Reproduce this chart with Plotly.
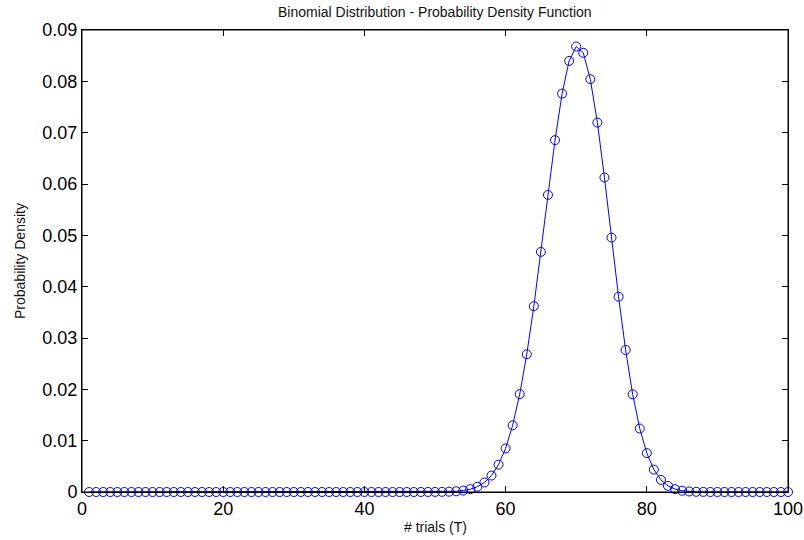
import plotly.graph_objects as go

trials = list(range(1, 101))
density = [0.0] * 47 + [
    0.0000022, 0.0000055, 0.0000130, 0.0000298, 0.0000654, 0.000138, 0.000281,
    0.000549, 0.001029, 0.001853, 0.003206, 0.005325, 0.008490, 0.012991,
    0.019067, 0.026835, 0.036199, 0.046780, 0.057884, 0.068539, 0.077610,
    0.083984, 0.086783, 0.085561, 0.080412, 0.071967, 0.061269, 0.049560,
    0.038040, 0.027665, 0.019034, 0.012368, 0.007575, 0.004364, 0.002360,
    0.001194, 0.000564, 0.000248, 0.000101, 0.0000379, 0.0000131, 0.0000041,
    0.0000012,
] + [0.0] * 10

x_ticks = [0, 20, 40, 60, 80, 100]
y_ticks = [0, 0.01, 0.02, 0.03, 0.04, 0.05, 0.06, 0.07, 0.08, 0.09]
y_tick_text = ["0", "0.01", "0.02", "0.03", "0.04", "0.05", "0.06", "0.07", "0.08", "0.09"]

W, H = 804, 540
L, R, T, B = 82, 16, 30, 48

fig = go.Figure()
fig.add_trace(go.Scatter(
    x=trials, y=density, mode="lines+markers",
    line=dict(color="#0000ff", width=1),
    marker=dict(symbol="circle-open", size=9, color="#0000ff", line=dict(width=1, color="#0000ff")),
    cliponaxis=False, showlegend=False,
))

font = "Liberation Sans, Arial, sans-serif"
txt = dict(family=font, size=14, color="#111111")
fig.update_layout(
    width=W, height=H,
    margin=dict(l=L, r=R, t=T, b=B, autoexpand=False),
    paper_bgcolor="white", plot_bgcolor="white",
    xaxis=dict(range=[0, 100], tickvals=x_ticks, ticks="inside", ticklen=6,
               tickcolor="black", showline=True, linecolor="black", linewidth=1,
               mirror="ticks", showgrid=False, zeroline=False,
               tickfont=dict(family=font, size=18, color="black")),
    yaxis=dict(range=[0, 0.09], tickvals=y_ticks, ticktext=y_tick_text, ticks="inside", ticklen=6,
               tickcolor="black", showline=True, linecolor="black", linewidth=1,
               mirror="ticks", showgrid=False, zeroline=False,
               tickfont=dict(family=font, size=18, color="black")),
    shapes=[dict(type="rect", xref="paper", yref="paper", x0=0, x1=1, y0=0, y1=1,
                 line=dict(color="black", width=1), layer="above")],
    annotations=[
        dict(text="Binomial Distribution - Probability Density Function",
             xref="paper", yref="paper", x=0.5, y=1, yshift=T - 12,
             xanchor="center", yanchor="middle", showarrow=False, font=txt),
        dict(text="# trials (T)", xref="paper", yref="paper", x=0.5, y=0,
             yshift=-(527 - (H - B)), xanchor="center", yanchor="middle",
             showarrow=False, font=txt),
        dict(text="Probability Density", xref="paper", yref="paper", x=0, y=0.5,
             xshift=-(L - 20), xanchor="center", yanchor="middle", textangle=-90,
             showarrow=False, font=txt),
    ],
)

fig.write_html("out.html", config={"displayModeBar": False},
               post_script="document.body.style.margin='0';")
